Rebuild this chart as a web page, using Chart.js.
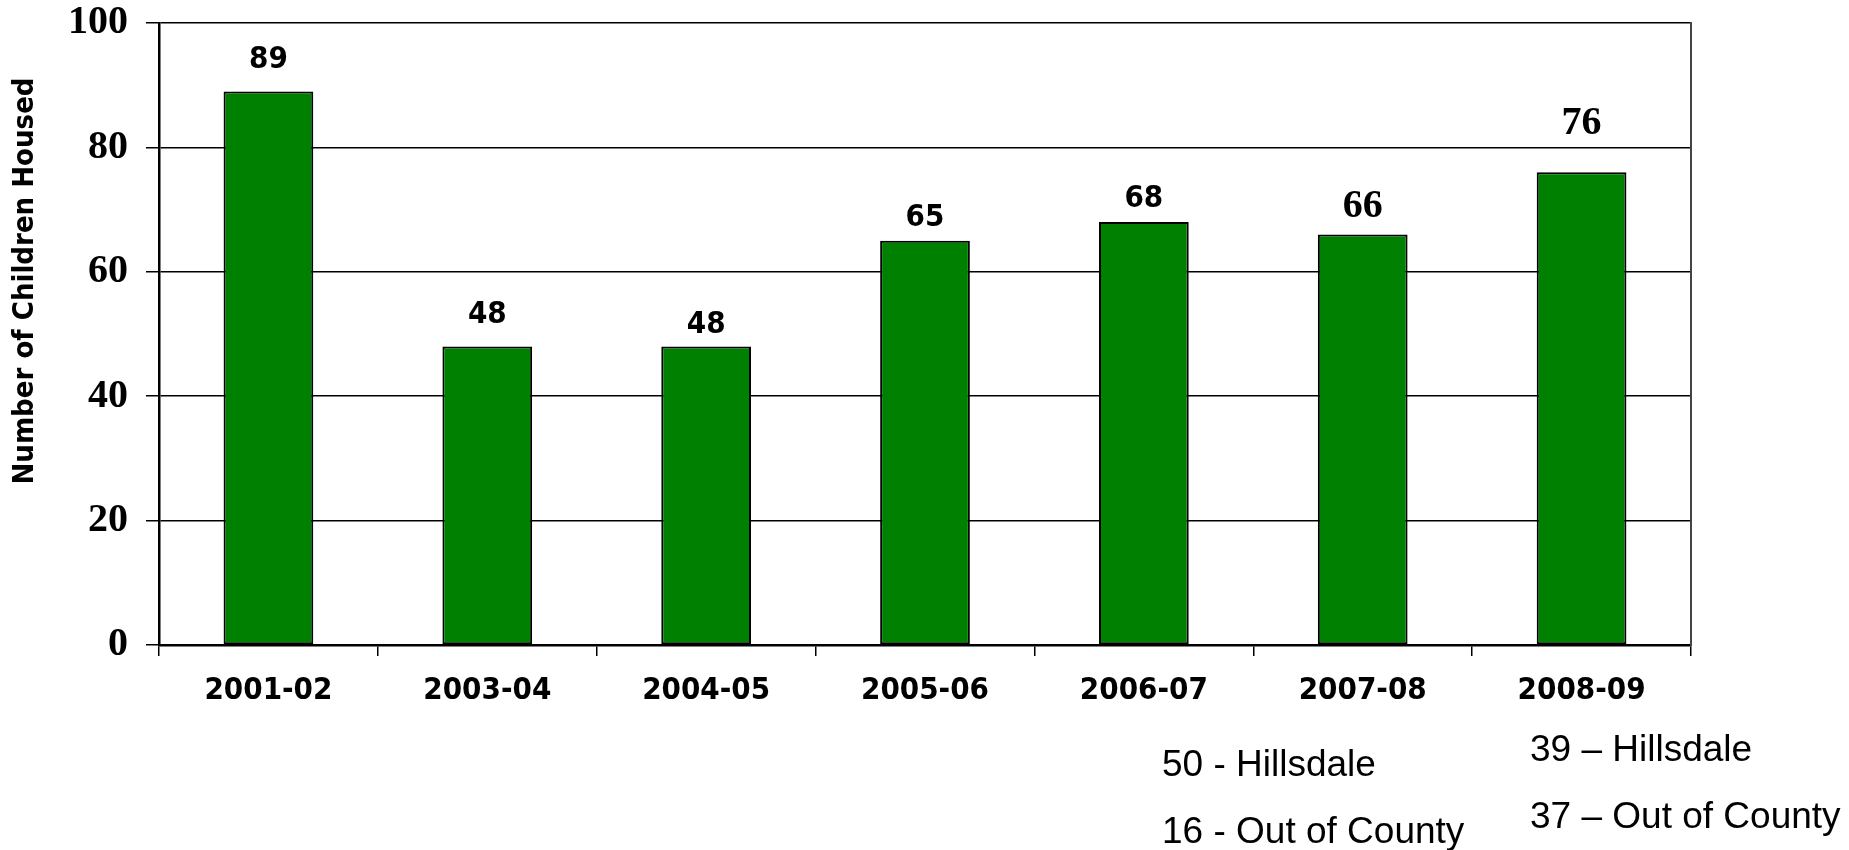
<!DOCTYPE html>
<html>
<head>
<meta charset="utf-8">
<script src="https://cdn.jsdelivr.net/npm/chart.js@4.4.1/dist/chart.umd.min.js"></script>
<style>
  html, body { margin: 0; padding: 0; background: #fff; }
  #wrap { width: 1849px; height: 850px; position: relative; }
</style>
</head>
<body>
<div id="wrap"><canvas id="chart"></canvas></div>
<script>
// data
const years = ['2001-02', '2003-04', '2004-05', '2005-06', '2006-07', '2007-08', '2008-09'];
const childrenHoused = [89, 48, 48, 65, 68, 66, 76];
const yTicks = [0, 20, 40, 60, 80, 100];
const notesLeft = ['50 - Hillsdale', '16 - Out of County'];
const notesRight = ['39 \u2013 Hillsdale', '37 \u2013 Out of County'];

const condensedBold = "'DejaVu Sans Condensed', 'DejaVu Sans', sans-serif";

// value labels over the bars (last two are in a serif face, like the original)
const barLabels = {
    id: 'barLabels',
    afterDatasetsDraw(chart, args, opts) {
        const ctx = chart.ctx;
        const meta = chart.getDatasetMeta(0);
        ctx.save();
        ctx.fillStyle = '#000';
        ctx.textAlign = 'center';
        ctx.textBaseline = 'alphabetic';
        meta.data.forEach((bar, i) => {
            const serif = opts.serif.includes(i);
            ctx.font = serif ? "bold 40px 'Liberation Serif'" : "bold 31px " + condensedBold;
            ctx.fillText(String(childrenHoused[i]), bar.x, bar.y - opts.gaps[i]);
        });
        ctx.restore();
    }
};

// rotated axis title and the notes under the last two columns
const extras = {
    id: 'extras',
    afterDraw(chart) {
        const ctx = chart.ctx;
        ctx.save();
        ctx.fillStyle = '#000';
        ctx.translate(25, 281);
        ctx.rotate(-Math.PI / 2);
        ctx.textAlign = 'center';
        ctx.textBaseline = 'middle';
        ctx.font = "bold 29px " + condensedBold;
        ctx.fillText('Number of Children Housed', 0, 0);
        ctx.restore();

        ctx.save();
        ctx.fillStyle = '#000';
        ctx.font = "37px 'Liberation Sans'";
        ctx.textBaseline = 'alphabetic';
        notesLeft.forEach((t, i) => ctx.fillText(t, 1162, 776 + i * 67));
        notesRight.forEach((t, i) => ctx.fillText(t, 1530, 761 + i * 67));
        ctx.restore();
    }
};

new Chart(document.getElementById('chart'), {
    type: 'bar',
    data: {
        labels: years,
        datasets: [{
            data: childrenHoused,
            backgroundColor: '#008000',
            borderColor: '#000',
            borderWidth: 2,
            borderSkipped: false,
            categoryPercentage: 1,
            barPercentage: 0.41
        }]
    },
    options: {
        responsive: true,
        maintainAspectRatio: false,
        animation: false,
        layout: { padding: { left: 0, top: 23, right: 158, bottom: 145 } },
        plugins: {
            legend: { display: false },
            tooltip: { enabled: false },
            barLabels: { gaps: [23, 23, 13, 15, 15, 17, 38], serif: [5, 6] }
        },
        scales: {
            x: {
                offset: true,
                grid: { offset: true, drawOnChartArea: false, color: '#000', lineWidth: 1.5, tickLength: 11 },
                border: { color: '#000', width: 2.5 },
                ticks: { color: '#000', padding: 16, font: { family: condensedBold, size: 31, weight: 'bold' } },
                afterFit(scale) { scale.height = 60; scale.paddingLeft = 0; scale.paddingRight = 0; }
            },
            y: {
                min: 0,
                max: 100,
                afterBuildTicks(scale) { scale.ticks = yTicks.map(v => ({ value: v })); },
                grid: { color: '#000', lineWidth: 1.5, tickLength: 13 },
                border: { color: '#000', width: 2.5 },
                ticks: { color: '#000', padding: 18, font: { family: "'Liberation Serif'", size: 40, weight: 'bold' } },
                afterFit(scale) { scale.width = 159; scale.paddingTop = 0; scale.paddingBottom = 0; }
            },
            y2: {
                position: 'right',
                min: 0,
                max: 100,
                grid: { drawOnChartArea: false, drawTicks: false },
                border: { color: '#444', width: 2 },
                ticks: { display: false },
                afterFit(scale) { scale.width = 0; scale.paddingTop = 0; scale.paddingBottom = 0; }
            }
        }
    },
    plugins: [barLabels, extras]
});
</script>
</body>
</html>
